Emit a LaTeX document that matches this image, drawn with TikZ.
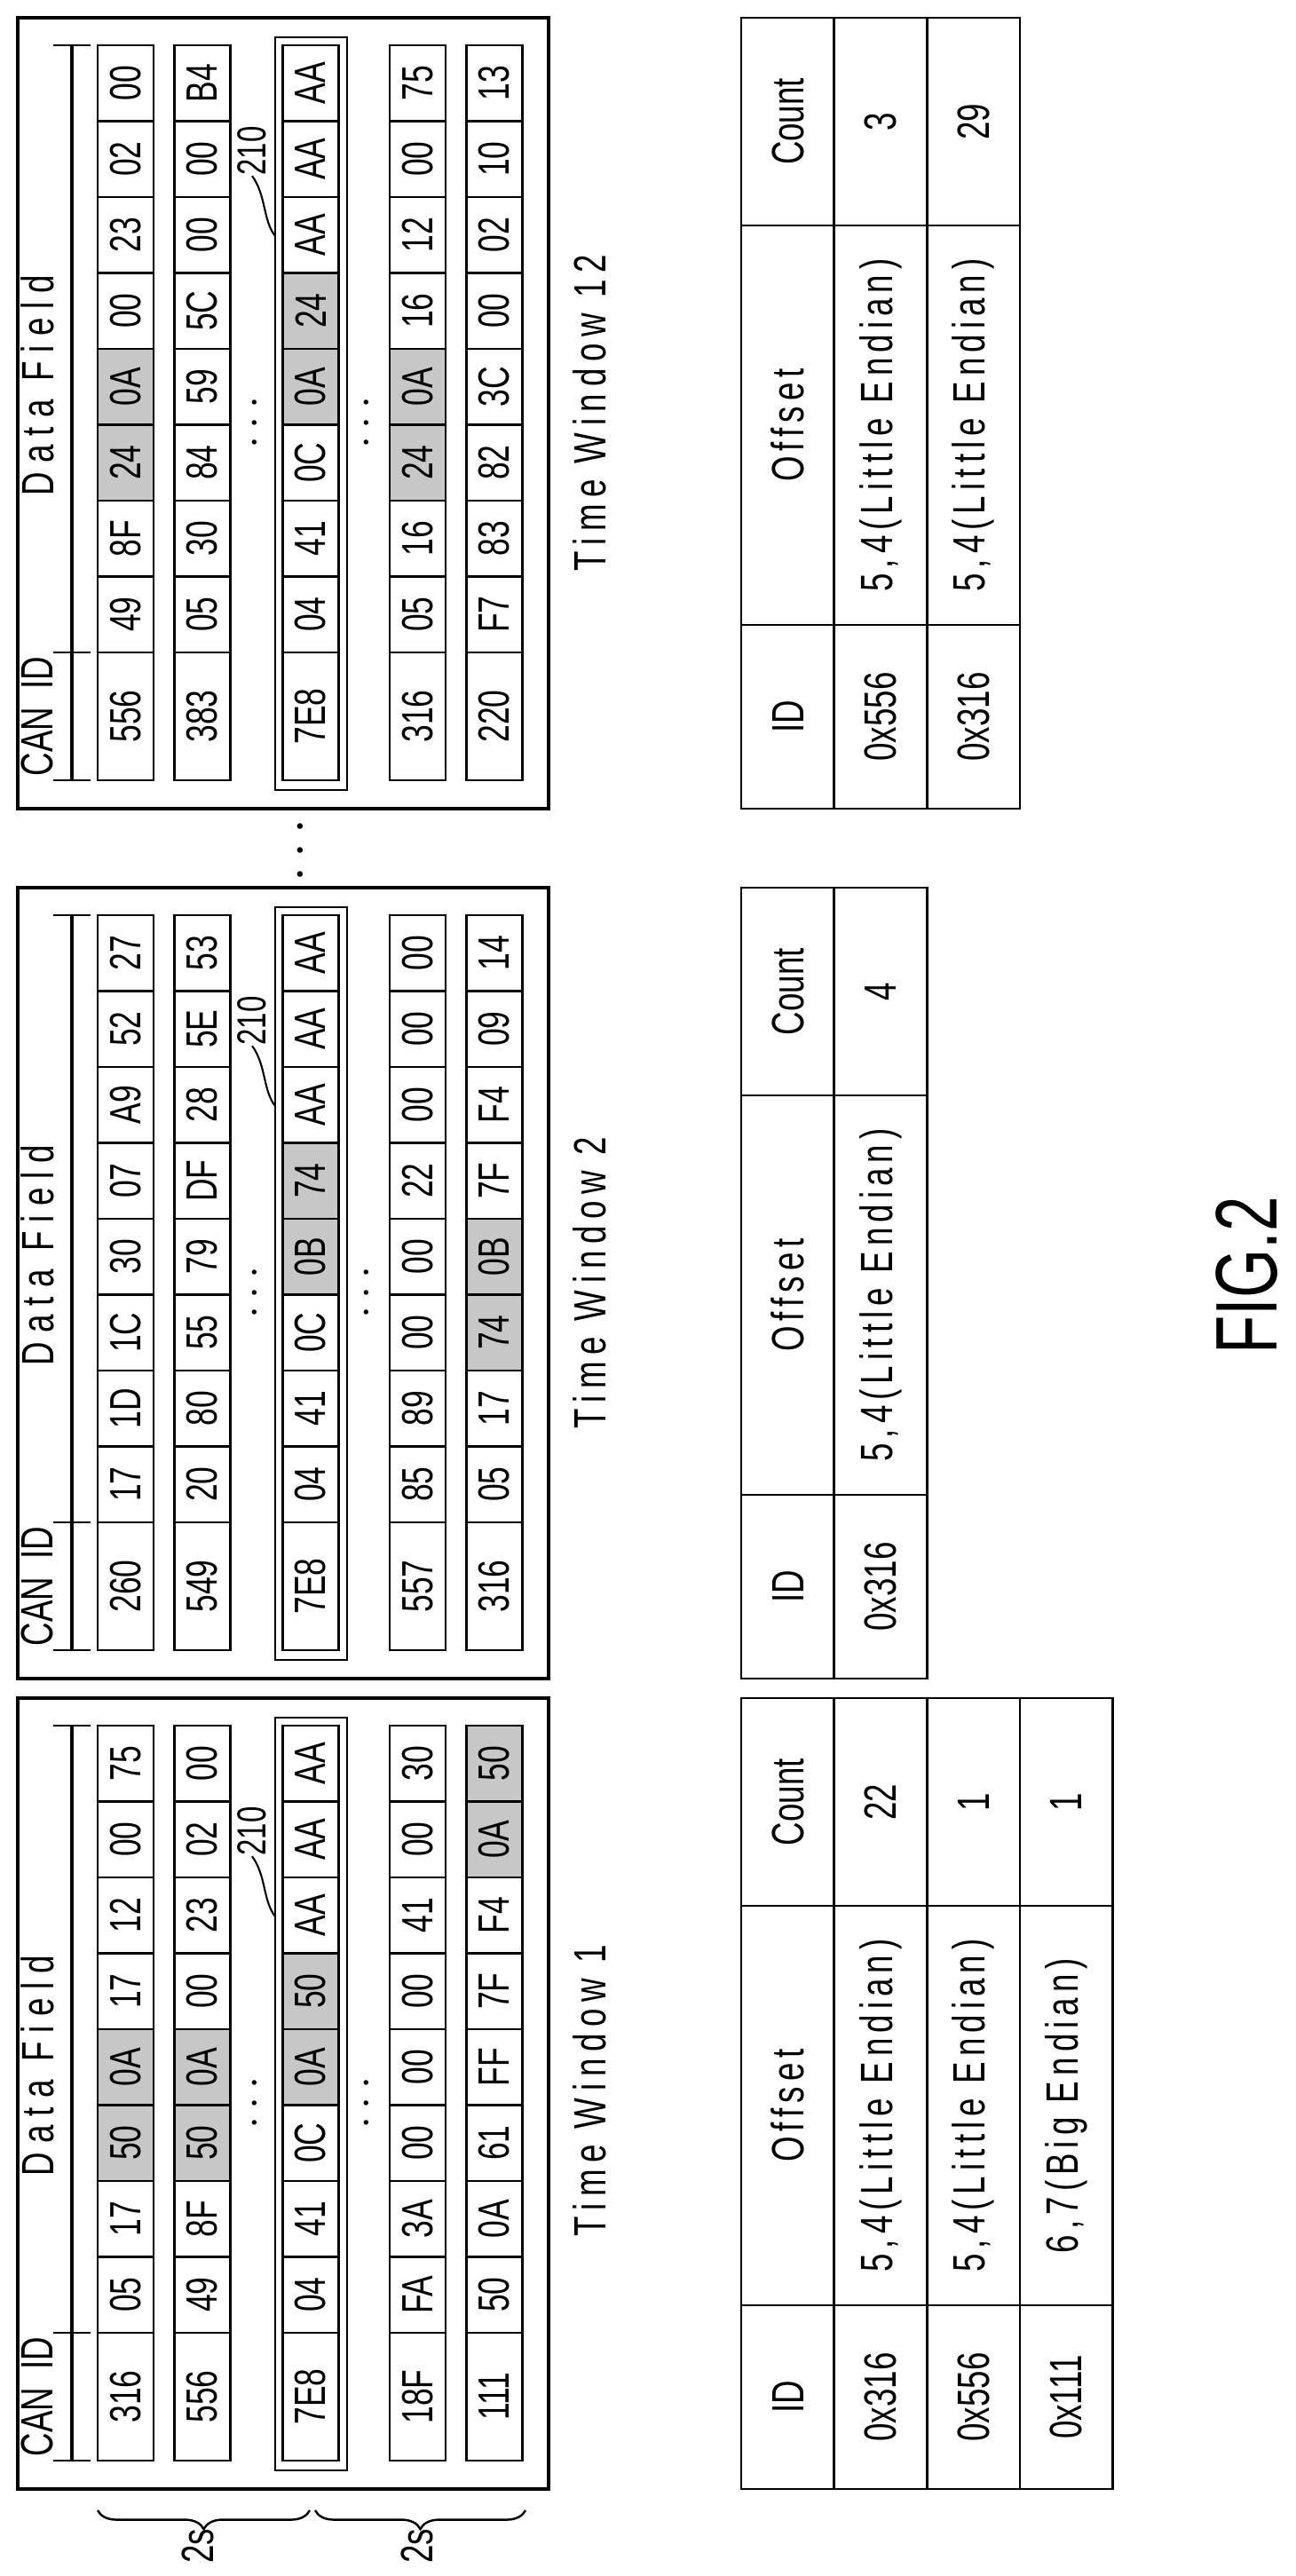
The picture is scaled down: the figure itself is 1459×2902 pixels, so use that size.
\documentclass[tikz,border=0pt]{standalone}
\usepackage{fontspec}
\setmainfont{Liberation Sans}[FakeStretch=0.72]
\usetikzlibrary{decorations.pathreplacing}

\tikzset{
  cell/.style={draw, line width=0.7pt, rotate=90, inner sep=0pt, outer sep=0pt,
    minimum height=0.63cm, font=\fontsize{14}{16}\selectfont},
  tcell/.style={draw, line width=0.7pt, rotate=90, inner sep=0pt, outer sep=0pt,
    minimum height=1.045cm, font=\fontsize{14.5}{16}\selectfont},
  lbl/.style={rotate=90, inner sep=0pt, font=\fontsize{14.5}{16}\selectfont},
  winbox/.style={draw, line width=0.9pt},
  hilite/.style={draw, line width=0.8pt}
}

% one time window: name, top, rows id/bytes/shaded
\newcommand\canwin[3]{%
  \draw[winbox] (20,#2) rectangle (618,#2+891);
  \draw[line width=0.9pt] (81,#2+31) -- (81,#2+859);
  \foreach \ty in {31,715,859} \draw[line width=0.6pt] (60,#2+\ty) -- (102,#2+\ty);
  \node[lbl] (#1can) at (42,#2+787) {CAN\ \ ID};
  \node[lbl] (#1data) at (42,#2+414) {\addfontfeatures{LetterSpace=20}Data Field};
  \draw[hilite] (310,#2+22) rectangle (391,#2+870);
  \foreach \cid/\bytes/\shd [count=\r] in {#3} {
    \pgfmathsetmacro\xc{{141.5,228,350,470.5,557}[\r-1]}
    \node[cell, minimum width=1.44cm] (#1r\r id) at (\xc,#2+787) {\cid};
    \foreach \b [count=\k] in \bytes {
      \xdef\fillc{white}
      \foreach \s in \shd {\ifnum\s=\k \xdef\fillc{black!22}\fi}
      \node[cell, minimum width=0.855cm, fill=\fillc] (#1r\r c\k) at (\xc,#2+757.75-85.5*\k) {\b};
    }
  }
  \foreach \dx in {288,414} \node[lbl] (#1dots\dx) at (\dx,#2+456) {$\cdots$};
  \node[lbl, font=\fontsize{13}{15}\selectfont] (#1ref) at (284,#2+150) {210};
  \coordinate (#1lead) at (310,#2+246);
  \draw[line width=0.6pt] (#1lead) .. controls (296,#2+228) and (300,#2+200) .. (#1ref.west);
}

% result table: name, top, rows id/offset/count
\newcommand\restab[3]{%
  \foreach \tid/\toff/\tcnt [count=\r from 0] in {ID/Offset/Count,#3} {
    \pgfmathsetmacro\xc{887.5+104.5*\r}
    \node[tcell, minimum width=2.34cm] (#1cnt\r) at (\xc,#2+117) {\tcnt};
    \node[tcell, minimum width=4.5cm] (#1off\r) at (\xc,#2+459) {\addfontfeatures{LetterSpace=12}\toff};
    \node[tcell, minimum width=2.07cm] (#1id\r) at (\xc,#2+787.5) {\tid};
  }
}

\begin{document}
\begin{tikzpicture}[x=0.01cm, y=-0.01cm]
\useasboundingbox (0,0) rectangle (1459,2902);

\canwin{wa}{1913}{316/{05,17,50,0A,17,12,00,75}/{3,4},
  556/{49,8F,50,0A,00,23,02,00}/{3,4},
  7E8/{04,41,0C,0A,50,AA,AA,AA}/{4,5},
  18F/{FA,3A,00,00,00,41,00,30}/{0},
  111/{50,0A,61,FF,7F,F4,0A,50}/{7,8}}
\canwin{wb}{1000}{260/{17,1D,1C,30,07,A9,52,27}/{0},
  549/{20,80,55,79,DF,28,5E,53}/{0},
  7E8/{04,41,0C,0B,74,AA,AA,AA}/{4,5},
  557/{85,89,00,00,22,00,00,00}/{0},
  316/{05,17,74,0B,7F,F4,09,14}/{3,4}}
\canwin{wl}{20}{556/{49,8F,24,0A,00,23,02,00}/{3,4},
  383/{05,30,84,59,5C,00,00,B4}/{0},
  7E8/{04,41,0C,0A,24,AA,AA,AA}/{4,5},
  316/{05,16,24,0A,16,12,00,75}/{3,4},
  220/{F7,83,82,3C,00,02,10,13}/{0}}

\node[lbl, font=\fontsize{16}{18}\selectfont] (skip) at (340,958) {$\cdots$};

\node[lbl] (tw1) at (664,2355) {\addfontfeatures{LetterSpace=15}Time Window 1};
\node[lbl] (tw2) at (664,1445) {\addfontfeatures{LetterSpace=15}Time Window 2};
\node[lbl] (tw12) at (664,465) {\addfontfeatures{LetterSpace=15}Time Window 12};

\coordinate (b1a) at (110,2828); \coordinate (b1b) at (349,2828);
\coordinate (b2a) at (355,2828); \coordinate (b2b) at (592,2828);
\draw[line width=0.7pt, decorate, decoration={brace, mirror, amplitude=6pt}] (b1a) -- (b1b);
\draw[line width=0.7pt, decorate, decoration={brace, mirror, amplitude=6pt}] (b2a) -- (b2b);
\node[lbl] (sa) at (223,2868) {2s};
\node[lbl] (sb) at (470,2868) {2s};

\restab{ta}{1913}{0x316/{5,4(Little Endian)}/22,
  0x556/{5,4(Little Endian)}/1,
  0x111/{6,7(Big Endian)}/1}
\restab{tb}{1000}{0x316/{5,4(Little Endian)}/4}
\restab{tl}{20}{0x556/{5,4(Little Endian)}/3,
  0x316/{5,4(Little Endian)}/29}

\node[lbl, font=\fontsize{28}{30}\selectfont] (fig) at (1405,1437) {FIG.2};
\end{tikzpicture}
\end{document}
